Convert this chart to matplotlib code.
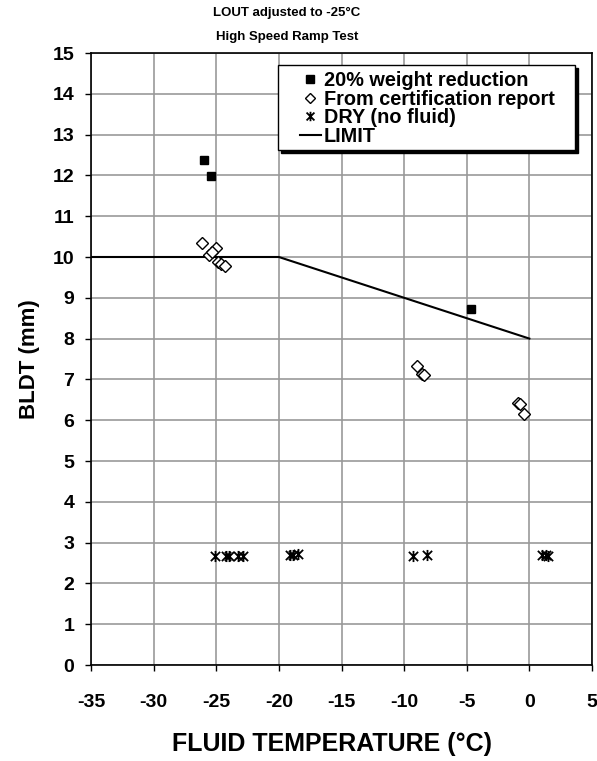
import matplotlib
matplotlib.use('Agg')
import matplotlib.pyplot as plt
from matplotlib.path import Path
from matplotlib.patches import Rectangle

plt.rcParams['font.family'] = ['Liberation Sans', 'DejaVu Sans']
plt.rcParams['font.weight'] = 'bold'
plt.rcParams['axes.unicode_minus'] = False

# 20% weight reduction
wr_temp = [-25.95, -25.4, -4.63]
wr_bldt = [12.38, 11.99, 8.72]

# From certification report
cert_temp = [-26.1, -25.6, -25.0, -25.3, -24.9, -24.6, -24.3,
             -9.0, -8.6, -8.4, -0.92, -0.77, -0.45]
cert_bldt = [10.34, 10.05, 10.22, 10.12, 9.88, 9.83, 9.78,
             7.32, 7.14, 7.10, 6.43, 6.39, 6.16]

# DRY (no fluid)
dry_temp = [-25.1, -24.2, -24.0, -23.3, -22.9, -19.1, -18.9, -18.5,
            -9.3, -8.2, 1.0, 1.3, 1.45]
dry_bldt = [2.66, 2.68, 2.68, 2.66, 2.66, 2.7, 2.7, 2.71,
            2.68, 2.7, 2.7, 2.7, 2.68]

# LIMIT
limit_temp = [-35, -20, 0]
limit_bldt = [10, 10, 8]

# x with a vertical bar, like the spreadsheet star marker
star = Path([(-1, -1), (1, 1), (-1, 1), (1, -1), (0, -1.2), (0, 1.2)],
            [Path.MOVETO, Path.LINETO, Path.MOVETO, Path.LINETO, Path.MOVETO, Path.LINETO])

W, H = 597, 761
fig = plt.figure(figsize=(W / 100, H / 100), dpi=100)
ax = fig.add_axes([91 / W, 1 - 665 / H, 501 / W, 612 / H])

ax.plot(wr_temp, wr_bldt, 's', color='black', markersize=6, linestyle='none',
        label='20% weight reduction', zorder=4)
ax.plot(cert_temp, cert_bldt, 'D', markerfacecolor='white', markeredgecolor='black',
        markersize=6.5, markeredgewidth=1.0, linestyle='none',
        label='From certification report', zorder=4)
ax.plot(dry_temp, dry_bldt, marker=star, color='black', markersize=8,
        markeredgewidth=1.3, linestyle='none', label='DRY (no fluid)', zorder=4)
ax.plot(limit_temp, limit_bldt, '-', color='black', linewidth=1.5, label='LIMIT', zorder=3)

ax.set_xlim(-35, 5)
ax.set_ylim(0, 15)
ax.set_xticks(range(-35, 6, 5))
ax.set_yticks(range(0, 16))
ax.grid(True, color='#999999', linewidth=1.2)
ax.set_axisbelow(True)
for s in ax.spines.values():
    s.set_linewidth(1.2)
ax.tick_params(direction='out', length=4, width=1, labelsize=14)
ax.tick_params(axis='y', pad=8)
ax.tick_params(axis='x', pad=17)
for lbl in ax.get_xticklabels() + ax.get_yticklabels():
    lbl.set_fontweight('bold')

ax.set_ylabel('BLDT (mm)', fontsize=16, fontweight='bold', labelpad=9)
fig.text(332 / W, 1 - 744 / H, 'FLUID TEMPERATURE (°C)', ha='center', va='center',
         fontsize=18, fontweight='bold')

fig.text(287 / W, 1 - 13 / H, 'LOUT adjusted to -25°C', ha='center', va='center',
         fontsize=9.5, fontweight='bold')
fig.text(287 / W, 1 - 37 / H, 'High Speed Ramp Test', ha='center', va='center',
         fontsize=9.5, fontweight='bold')

# legend box with hard shadow
box_x0, box_x1, box_y0, box_y1 = 278, 575, 65, 150
ax.add_patch(Rectangle(((box_x0 + 3) / W, 1 - (box_y1 + 3) / H),
                       (box_x1 - box_x0) / W, (box_y1 - box_y0) / H,
                       transform=fig.transFigure, facecolor='black',
                       edgecolor='black', zorder=5, clip_on=False))
ax.add_patch(Rectangle((box_x0 / W, 1 - box_y1 / H),
                       (box_x1 - box_x0) / W, (box_y1 - box_y0) / H,
                       transform=fig.transFigure, facecolor='white',
                       edgecolor='black', linewidth=1.0, zorder=6, clip_on=False))

leg = ax.legend(loc='upper left', bbox_to_anchor=(300 / W, 1 - 71 / H),
                bbox_transform=fig.transFigure, frameon=False,
                prop={'weight': 'bold', 'size': 14.3}, labelspacing=-0.02,
                handlelength=1.05, handletextpad=0.15, borderpad=0,
                borderaxespad=0, markerscale=0.85)
leg.set_zorder(7)

fig.savefig('out.png', dpi=100)
